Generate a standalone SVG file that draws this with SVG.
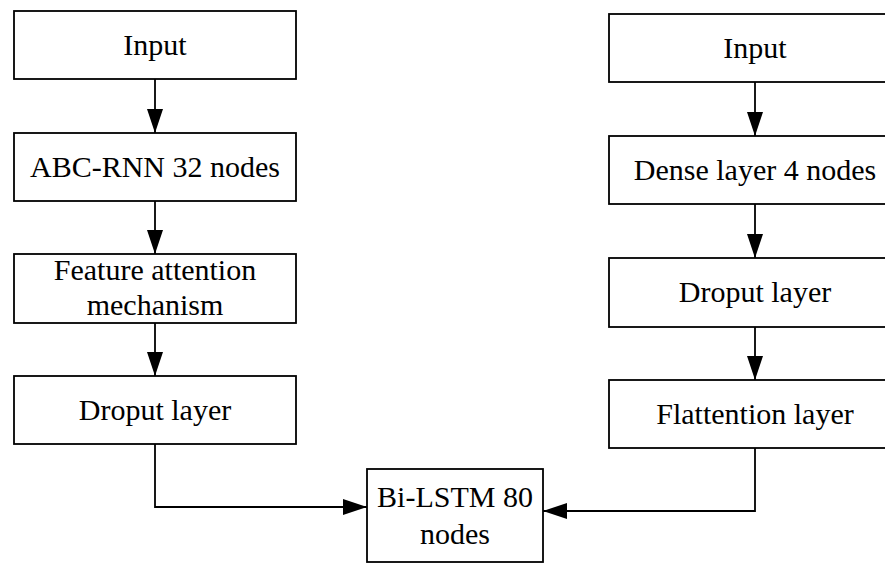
<svg xmlns="http://www.w3.org/2000/svg" width="885" height="563" viewBox="0 0 885 563">
<style>
.box{fill:#fff;stroke:#000;stroke-width:1.8}
.t{font-family:"Liberation Serif","Times New Roman",serif;font-size:30px;fill:#000;text-anchor:middle}
.c{fill:none;stroke:#000;stroke-width:1.8}
</style>
<defs>
<marker id="ah" markerUnits="userSpaceOnUse" markerWidth="24" markerHeight="16" refX="24" refY="8" orient="auto" viewBox="0 0 24 16">
<path d="M0,0 L24,8 L0,16 Z" fill="#000"/>
</marker>
</defs>
<rect width="885" height="563" fill="#fff"/>
<g id="connectors">
<line class="c" x1="155" y1="79" x2="155" y2="133" marker-end="url(#ah)"/>
<line class="c" x1="155" y1="201" x2="155" y2="254" marker-end="url(#ah)"/>
<line class="c" x1="155" y1="323" x2="155" y2="376" marker-end="url(#ah)"/>
<line class="c" x1="755" y1="82" x2="755" y2="136" marker-end="url(#ah)"/>
<line class="c" x1="755" y1="204" x2="755" y2="258" marker-end="url(#ah)"/>
<line class="c" x1="755" y1="327" x2="755" y2="380" marker-end="url(#ah)"/>
<polyline class="c" points="155,444 155,507 367,507" marker-end="url(#ah)"/>
<polyline class="c" points="755,448 755,511 543,511" marker-end="url(#ah)"/>
</g>
<g id="n-input-left">
<rect class="box" x="14" y="11" width="282" height="68"/>
<text class="t" x="155" y="55">Input</text>
</g>
<g id="n-abc-rnn">
<rect class="box" x="14" y="133" width="282" height="68"/>
<text class="t" x="155" y="177">ABC-RNN 32 nodes</text>
</g>
<g id="n-feature-attention">
<rect class="box" x="14" y="254" width="282" height="69"/>
<text class="t" x="155" y="280">Feature attention</text>
<text class="t" x="155" y="315">mechanism</text>
</g>
<g id="n-dropout-left">
<rect class="box" x="14" y="376" width="282" height="68"/>
<text class="t" x="155" y="420">Droput layer</text>
</g>
<g id="n-input-right">
<rect class="box" x="609" y="14" width="292" height="68"/>
<text class="t" x="755" y="58">Input</text>
</g>
<g id="n-dense">
<rect class="box" x="609" y="136" width="292" height="68"/>
<text class="t" x="755" y="180">Dense layer 4 nodes</text>
</g>
<g id="n-dropout-right">
<rect class="box" x="609" y="258" width="292" height="69"/>
<text class="t" x="755" y="302">Droput layer</text>
</g>
<g id="n-flattention">
<rect class="box" x="609" y="380" width="292" height="68"/>
<text class="t" x="755" y="424">Flattention layer</text>
</g>
<g id="n-bilstm">
<rect class="box" x="367" y="469" width="176" height="93"/>
<text class="t" x="455" y="507">Bi-LSTM 80</text>
<text class="t" x="455" y="544">nodes</text>
</g>
</svg>
